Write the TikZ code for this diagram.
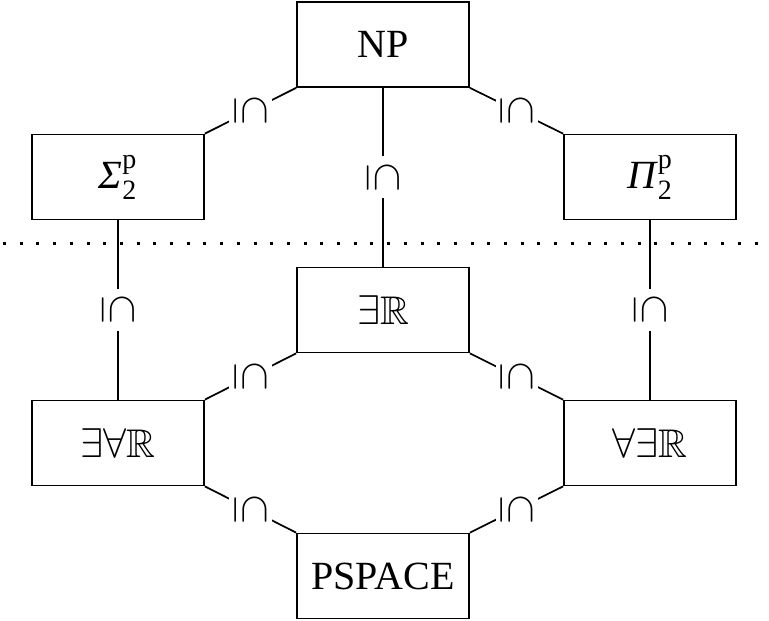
\documentclass[tikz,border=0pt]{standalone}
\usepackage{amsmath,amssymb}
\usepackage{fontspec}
\setmainfont{Liberation Serif}
\begin{document}
\begin{tikzpicture}[x=0.5pt,y=-0.5pt,
  cls/.style={draw,line width=0.85pt,minimum width=86pt,minimum height=42.5pt,inner sep=0pt,font=\fontsize{20}{24}\selectfont},
  conn/.style={line width=0.85pt},
  sub/.style={fill=white,rotate=-90,inner sep=2.5pt,font=\fontsize{20}{22}\selectfont}]
\useasboundingbox (0,0) rectangle (769,620);
\node[cls] (np) at (383,44.5) {NP};
\node[cls] (sig) at (118,177) {\textit{Σ}$^{\text{p}}_{\text{2}}$};
\node[cls] (pi) at (650,177) {\textit{Π}$^{\text{p}}_{\text{2}}$};
\node[cls] (er) at (383,310) {$\exists\mathbb{R}$};
\node[cls] (ear) at (118,443) {$\exists\forall\mathbb{R}$};
\node[cls] (aer) at (650,443) {$\forall\exists\mathbb{R}$};
\node[cls] (ps) at (383,576) {PSPACE};
\coordinate (dl) at (3,243);
\coordinate (dr) at (769,243);
\draw[line width=1.5pt,dash pattern=on 1.5pt off 6.85pt] (dl) -- (dr);
\draw[conn] (np.south west) -- node[sub]{$\subseteq$} (sig.north east);
\draw[conn] (np.south east) -- node[sub]{$\subseteq$} (pi.north west);
\draw[conn] (np.south) -- node[sub]{$\subseteq$} (er.north);
\draw[conn] (sig.south) -- node[sub]{$\subseteq$} (ear.north);
\draw[conn] (pi.south) -- node[sub]{$\subseteq$} (aer.north);
\draw[conn] (er.south west) -- node[sub]{$\subseteq$} (ear.north east);
\draw[conn] (er.south east) -- node[sub]{$\subseteq$} (aer.north west);
\draw[conn] (ear.south east) -- node[sub]{$\subseteq$} (ps.north west);
\draw[conn] (aer.south west) -- node[sub]{$\subseteq$} (ps.north east);
\end{tikzpicture}
\end{document}
